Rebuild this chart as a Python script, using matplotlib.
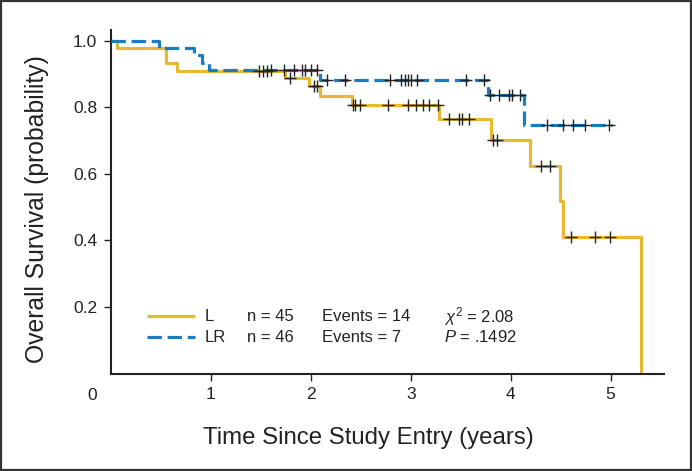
import matplotlib
matplotlib.use("Agg")
import matplotlib.pyplot as plt
from matplotlib.patches import Rectangle
import numpy as np

plt.rcParams['font.family'] = ['Liberation Sans', 'DejaVu Sans']
plt.rcParams['mathtext.fontset'] = 'custom'
plt.rcParams['mathtext.rm'] = 'Liberation Sans'
plt.rcParams['mathtext.it'] = 'Liberation Sans:italic'

# ---- data ----
# L arm: event times and survival after each event
l_times = [0.0, 0.06, 0.555, 0.66, 1.745, 1.98, 2.09, 2.41, 3.285, 3.80, 4.19, 4.49, 4.525, 5.30]
l_surv = [1.0, 0.978, 0.933, 0.911, 0.889, 0.864, 0.836, 0.806, 0.764, 0.702, 0.625, 0.52, 0.411, 0.0]
l_censor = [1.48, 1.52, 1.56, 1.79, 2.03, 2.06, 2.42, 2.44, 2.49, 2.77, 2.97, 3.05, 3.12, 3.185,
            3.27, 3.38, 3.48, 3.515, 3.58, 3.82, 3.86, 4.30, 4.39, 4.60, 4.845, 4.995]

# LR arm
lr_times = [0.0, 0.48, 0.83, 0.91, 0.98, 2.09, 3.77, 4.13, 5.01]
lr_surv = [1.0, 0.978, 0.957, 0.935, 0.913, 0.884, 0.838, 0.747, 0.747]
lr_censor = [1.60, 1.73, 1.83, 1.91, 1.94, 2.00, 2.06, 2.16, 2.34, 2.79, 2.905, 2.94, 2.97, 3.00,
             3.06, 3.55, 3.73, 3.795, 3.88, 3.98, 4.01, 4.09, 4.36, 4.52, 4.62, 4.74, 4.98]

x_ticks = [1, 2, 3, 4, 5]
y_ticks = [0.2, 0.4, 0.6, 0.8, 1.0]

legend_rows = [
    ("L", "n = 45", "Events = 14", r"$\chi^{2}$ = 2.08"),
    ("LR", "n = 46", "Events = 7", r"$P$ = .1492"),
]

yellow = "#E8B930"
blue = "#1A7CC0"

fig = plt.figure(figsize=(6.92, 4.71), dpi=100)
ax = fig.add_axes([111 / 692, 1 - 373.5 / 471, 553 / 692, 343.5 / 471])


def surv_at(times, surv, t):
    idx = np.searchsorted(times, t, side='right') - 1
    return np.array(surv)[idx]


ax.step(l_times, l_surv, where='post', color=yellow, lw=2.3, solid_capstyle='butt', zorder=2)
ax.step(lr_times, lr_surv, where='post', color=blue, lw=2.3, linestyle=(0, (4.5, 1.8)),
        dash_capstyle='butt', zorder=3)

ax.plot(l_censor, surv_at(l_times, l_surv, l_censor), linestyle='none', marker='+',
        color='#222222', markersize=8, markeredgewidth=1.0, zorder=4)
ax.plot(lr_censor, surv_at(lr_times, lr_surv, lr_censor), linestyle='none', marker='+',
        color='#222222', markersize=8, markeredgewidth=1.0, zorder=4)

ax.set_xlim(0, 5.535)
ax.set_ylim(0, 1.033)
ax.set_xticks(x_ticks)
ax.set_yticks(y_ticks)
ax.set_xticklabels([str(v) for v in x_ticks])
ax.set_yticklabels([f"{v:.1f}" for v in y_ticks])
for s in ['top', 'right']:
    ax.spines[s].set_visible(False)
for s in ['left', 'bottom']:
    ax.spines[s].set_linewidth(1.5)
    ax.spines[s].set_color('#222222')
ax.tick_params(direction='out', length=5, width=1.0, color='#222222', labelsize=12.5,
               labelcolor='#222222', pad=5)

# origin label
ax.text(-0.034, -0.0626, "0", transform=ax.transAxes, ha='center', va='center',
        fontsize=12.5, color='#222222')

# legend block
row_y = [0.167, 0.106]
for (lab, n, ev, stat), y, col, ls in zip(legend_rows, row_y, [yellow, blue], ['-', (0, (4.5, 1.8))]):
    ax.plot([0.065, 0.152], [y, y], transform=ax.transAxes, color=col, lw=2.3, linestyle=ls,
            dash_capstyle='butt', solid_capstyle='butt')
    for x, s in zip([0.170, 0.246, 0.382, 0.602], [lab, n, ev, stat]):
        ax.text(x, y, s, transform=ax.transAxes, ha='left', va='center', fontsize=12,
                color='#222222')

fig.text(368.5 / 692, 1 - 444 / 471, "Time Since Study Entry (years)", ha='center',
         va='baseline', fontsize=17.3, color='#222222')
fig.text(37 / 692, 1 - 209 / 471, "Overall Survival (probability)", ha='center', va='center',
         rotation=90, fontsize=17.8, color='#222222')

fig.patches.append(Rectangle((0.002, 0.003), 0.996, 0.994, transform=fig.transFigure,
                             fill=False, edgecolor='#333333', lw=1.6))

fig.savefig("out.png", dpi=100)
